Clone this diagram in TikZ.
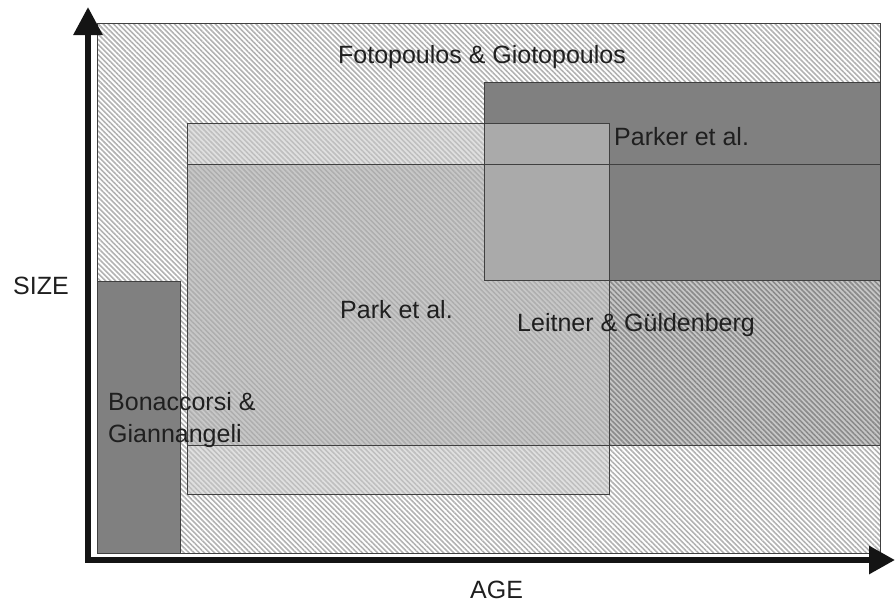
\documentclass[tikz,border=0pt]{standalone}
\usepackage{fontspec}
\setmainfont{Liberation Sans}
\usetikzlibrary{arrows.meta, patterns.meta}

\definecolor{hatchgray}{gray}{0.70}
\definecolor{boxdark}{gray}{0.50}
\definecolor{boxline}{gray}{0.25}
\definecolor{parkfill}{gray}{0.79}
\definecolor{labeltext}{gray}{0.12}

\begin{document}
\begin{tikzpicture}[x=1pt, y=-1pt,
            font=\fontsize{25}{30}\selectfont,
            hatch/.style = {fill=white, pattern={Lines[angle=-45, distance=3.6pt, line width=1.6pt]}, pattern color=hatchgray},
            frame/.style = {draw=boxline, line width=0.8pt},
            darkbox/.style = {fill=boxdark},
            lbl/.style = {anchor=base west, inner sep=0pt, text=labeltext},
            axis/.style = {line width=6pt, draw=black!92}]

           \useasboundingbox (0,0) rectangle (895,603);

           % regioni
           \fill[hatch] (97,23) rectangle (880,553);
           \fill[black, fill opacity=0.22] (187,164) rectangle (880,445);
           \fill[darkbox] (484,82) rectangle (880,280);
           \fill[darkbox] (97,281) rectangle (180,553);
           \fill[parkfill, fill opacity=0.575] (187,123) rectangle (609,494);

           % bordi
           \draw[frame] (97,23) rectangle (880,553);
           \draw[frame] (187,164) rectangle (880,445);
           \draw[frame] (484,82) rectangle (880,280);
           \draw[frame] (97,281) rectangle (180,553);
           \draw[frame] (187,123) rectangle (609,494);

           % etichette
           \node[lbl, anchor=base] (foto) at (482,63) {Fotopoulos \& Giotopoulos};
           \node[lbl] (parker) at (614,145) {Parker et al.};
           \node[lbl] (park) at (340,318) {Park et al.};
           \node[lbl] (leitner) at (517,331) {Leitner \& Güldenberg};
           \node[lbl] (bona) at (108,410) {Bonaccorsi \&};
           \node[lbl] (giann) at (108,442) {Giannangeli};

           % assi
           \coordinate (ytip) at (88,7);
           \coordinate (origin) at (88,560);
           \coordinate (xtip) at (895,560);
           \draw[axis, {Triangle[length=28pt, width=28pt]}-{Triangle[length=26pt, width=27pt]}] (ytip) -- (origin) -- (xtip);
           \node[lbl] (size) at (13,294) {SIZE};
           \node[lbl] (age) at (470,598) {AGE};
        \end{tikzpicture}
\end{document}
